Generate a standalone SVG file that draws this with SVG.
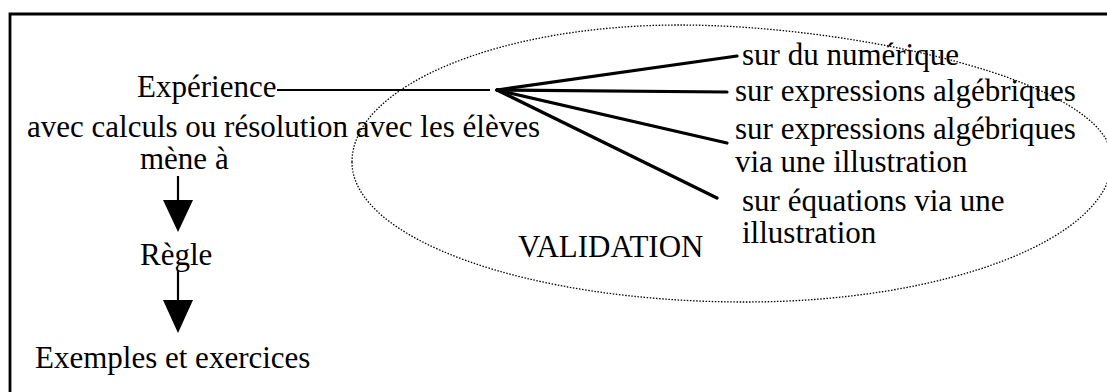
<svg xmlns="http://www.w3.org/2000/svg" width="1107" height="392" viewBox="0 0 1107 392">
<style>
.t{font-family:"Liberation Serif","Times New Roman",serif;font-size:31px;fill:#000}
.b{stroke:#000;stroke-width:3.2;fill:none;stroke-linecap:round}
.s{stroke:#000;stroke-width:2.2;fill:none}
</style>
<rect width="1107" height="392" fill="#fff"/>
<path d="M10,392 V14 H1107" fill="none" stroke="#000" stroke-width="2.8"/>
<g id="validation-zone">
<path d="M352,162 C352,86 499,25 680,25 C850,25 1112,80 1112,160 C1112,238 948,302 745,302 C528,302 352,239 352,162 Z" fill="none" stroke="#000" stroke-width="1.3" stroke-dasharray="1.5 1.6"/>
<text class="t" x="518" y="257" font-size="29">VALIDATION</text>
</g>
<g id="experience"><text class="t" x="137" y="97">Expérience</text></g>
<g id="avec"><text class="t" x="27" y="137">avec calculs ou résolution avec les élèves</text></g>
<g id="mene"><text class="t" x="140" y="169">mène à</text></g>
<g id="regle"><text class="t" x="140" y="265">Règle</text></g>
<g id="exemples"><text class="t" x="35" y="368">Exemples et exercices</text></g>
<g id="v1"><text class="t" x="742" y="65">sur du numérique</text></g>
<g id="v2"><text class="t" x="735" y="101">sur expressions algébriques</text></g>
<g id="v3"><text class="t" x="735" y="139">sur expressions algébriques</text><text class="t" x="735" y="172">via une illustration</text></g>
<g id="v4"><text class="t" x="742" y="211">sur équations via une</text><text class="t" x="742" y="243">illustration</text></g>
<g id="connectors">
<line class="s" x1="277" y1="90" x2="490" y2="90"/>
<line class="b" x1="497" y1="90" x2="737" y2="56"/>
<line class="b" x1="497" y1="90" x2="727" y2="92"/>
<line class="b" x1="497" y1="90" x2="727" y2="143"/>
<line class="b" x1="497" y1="90" x2="717" y2="198"/>
<line class="s" x1="178" y1="176" x2="178" y2="202"/>
<polygon points="163,200 193,200 178,232" fill="#000"/>
<line class="s" x1="178" y1="270" x2="178" y2="302"/>
<polygon points="163,300 193,300 178,333" fill="#000"/>
</g>
</svg>
